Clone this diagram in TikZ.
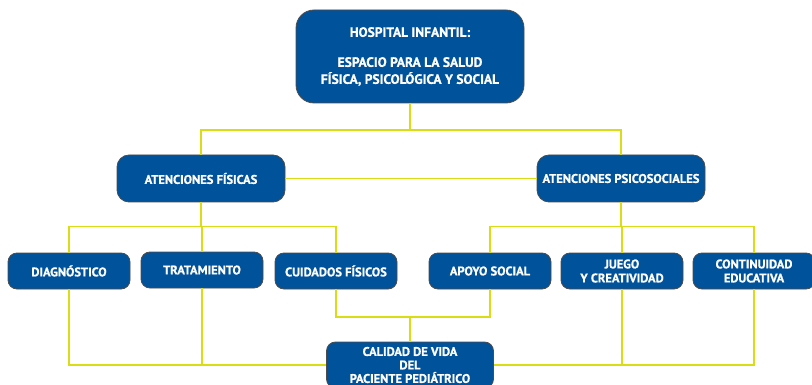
\documentclass[tikz,border=0pt]{standalone}
\usepackage{fontspec}
\setmainfont{PT Sans}[BoldFont={PT Sans Bold}, BoldFeatures={FakeBold=0.9}]
\usetikzlibrary{positioning}
\definecolor{azulh}{RGB}{0,82,155}
\definecolor{amarilloh}{RGB}{216,221,22}
\tikzset{
  caja/.style={draw=black!70, fill=azulh, text=white, line width=0.8pt,
    rounded corners=9pt, align=center, inner sep=0pt,
    font=\bfseries\fontsize{12.5}{14}\selectfont},
  enlace/.style={draw=amarilloh, line width=1.7pt}
}

\begin{document}
\begin{tikzpicture}[x=1pt,y=-1pt]
  \clip (0,0) rectangle (812,385);

  %% cajas
  \node[caja, minimum width=228pt, minimum height=93pt, rounded corners=18pt,
    font=\bfseries\fontsize{13.5}{17}\selectfont] (hospital) at (410,56.5)
    {HOSPITAL INFANTIL:\\[13pt]ESPACIO PARA LA SALUD\\F\'ISICA, PSICOL\'OGICA Y SOCIAL};

  \node[caja, minimum width=168pt, minimum height=47pt, rounded corners=12pt]
    (fisicas) at (201,178.5) {ATENCIONES F\'ISICAS};
  \node[caja, minimum width=168pt, minimum height=47pt, rounded corners=12pt]
    (psico) at (621,178.5) {ATENCIONES PSICOSOCIALES};

  \node[caja, minimum width=122pt, minimum height=36pt] (diag) at (69,271) {DIAGN\'OSTICO};
  \node[caja, minimum width=122pt, minimum height=36pt] (trat) at (202,270) {TRATAMIENTO};
  \node[caja, minimum width=122pt, minimum height=36pt] (cuid) at (336,271) {CUIDADOS F\'ISICOS};
  \node[caja, minimum width=122pt, minimum height=36pt] (apoyo) at (490,271) {APOYO SOCIAL};
  \node[caja, minimum width=122pt, minimum height=36pt] (juego) at (622,271) {JUEGO\\Y CREATIVIDAD};
  \node[caja, minimum width=122pt, minimum height=36pt] (contin) at (754,271) {CONTINUIDAD\\EDUCATIVA};

  \node[caja, minimum width=167pt, minimum height=46pt, font=\bfseries\fontsize{12.5}{13.5}\selectfont]
    (calidad) at (410,365) {CALIDAD DE VIDA\\DEL\\PACIENTE PEDI\'ATRICO};

  %% enlaces de arriba
  \coordinate (j1) at (410,130);
  \draw[enlace] (hospital.south) -- (j1);
  \draw[enlace] (fisicas.north) |- (j1) -| (psico.north);
  \draw[enlace] (fisicas.east) -- (psico.west);

  %% fisicas -> fila de abajo
  \draw[enlace] (fisicas.south) -- ++(0,24) coordinate (j2);
  \draw[enlace] (diag.north) |- (j2) -| (cuid.north);
  \draw[enlace] (trat.north) -- (trat.north |- j2);

  %% psicosociales -> fila de abajo
  \draw[enlace] (psico.south) -- ++(0,24) coordinate (j3);
  \draw[enlace] (apoyo.north) |- (j3) -| (contin.north);
  \draw[enlace] (juego.north) -- (juego.north |- j3);

  %% todo -> calidad de vida
  \coordinate (j4) at (410,317);
  \draw[enlace] (cuid.south) |- (j4) -| (apoyo.south);
  \draw[enlace] (j4) -- (calidad.north);
  \draw[enlace] (diag.south) |- (calidad.west);
  \draw[enlace] (trat.south) -- (trat.south |- calidad.west);
  \draw[enlace] (contin.south) |- (calidad.east);
  \draw[enlace] (juego.south) -- (juego.south |- calidad.east);
\end{tikzpicture}
\end{document}
